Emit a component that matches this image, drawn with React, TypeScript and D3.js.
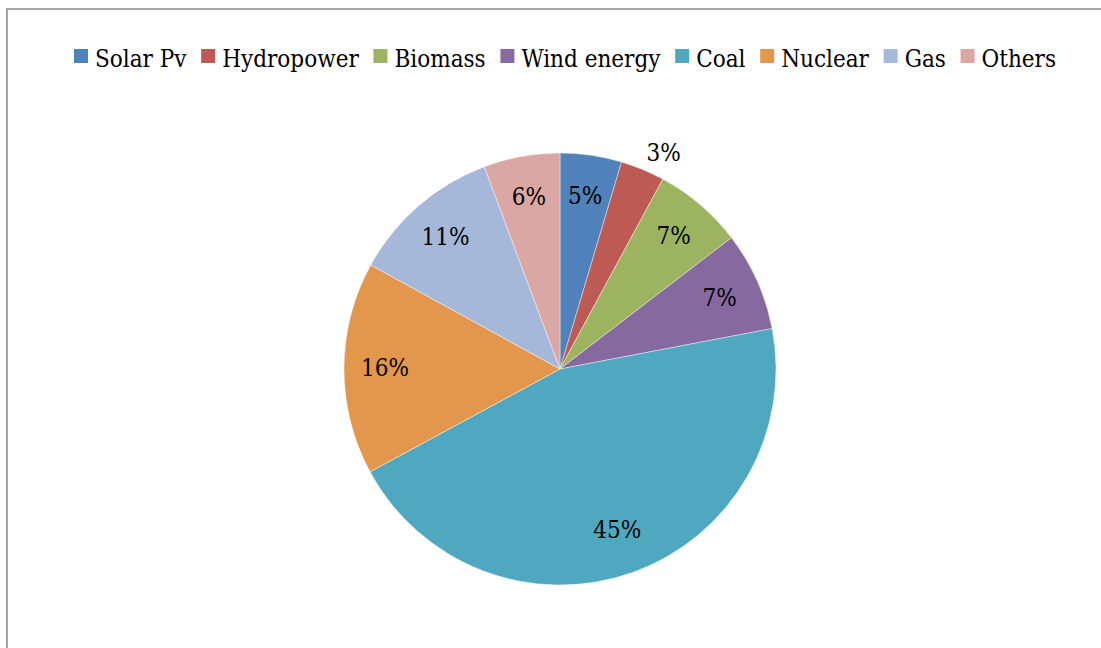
import React, { useMemo } from "react";
import * as d3 from "d3";

const categories = ["Solar Pv", "Hydropower", "Biomass", "Wind energy", "Coal", "Nuclear", "Gas", "Others"];
const values = [4.6, 3.3, 6.7, 7.4, 45.1, 15.9, 11.3, 5.7];
const colors = ["#5081BA", "#BE5A54", "#9CB45F", "#866A9F", "#4FA8C0", "#E3974D", "#A6B8D9", "#DBA7A4"];
const outsideLabel = [false, true, false, false, false, false, false, false];

const W = 1101;
const H = 648;
const CX = 560;
const CY = 369;
const R = 216;
const FONT_NAME = "DejaVu Serif Condensed";
const FONT = `'${FONT_NAME}', 'DejaVu Serif', serif`;
const FS = 24;
const LEG_FS = 24;
const LEG_LEFT = 74;
const LEG_RIGHT = 1056;

function measure(text: string, size: number): number {
  const c = document.createElement("canvas");
  const ctx = c.getContext("2d");
  if (!ctx) return text.length * size * 0.5;
  ctx.font = `${size}px '${FONT_NAME}', 'DejaVu Serif', serif`;
  return ctx.measureText(text).width;
}

export default function App() {
  const total = d3.sum(values);
  const pie = d3.pie<number>().sort(null).value((d) => d)(values);
  const arc = d3.arc<d3.PieArcDatum<number>>().innerRadius(0).outerRadius(R);

  const legend = useMemo(() => {
    const sw = 14;
    const textOff = 21;
    const widths = categories.map((c) => measure(c, LEG_FS));
    const itemW = widths.map((w) => textOff + w);
    const gap = (LEG_RIGHT - LEG_LEFT - d3.sum(itemW)) / (categories.length - 1);
    let x = LEG_LEFT;
    return categories.map((c, i) => {
      const item = { x, w: widths[i], sw };
      x += itemW[i] + gap;
      return item;
    });
  }, []);

  return (
    <svg width={W} height={H} style={{ position: "absolute", left: 0, top: 0, display: "block", background: "#fff" }}>
      <rect x={7} y={9} width={W + 50} height={H + 50} fill="#fff" stroke="#A6A6A6" strokeWidth={2} />
      <g transform={`translate(${CX},${CY})`}>
        {pie.map((p, i) => (
          <path key={i} d={arc(p) || ""} fill={colors[i]} stroke="#ffffff" strokeWidth={0.7} strokeOpacity={0.6} />
        ))}
        {pie.map((p, i) => {
          const a = (p.startAngle + p.endAngle) / 2;
          const outside = outsideLabel[i];
          const r = outside ? R + 18 : i === 4 ? R * 0.79 : R * 0.81;
          const x = Math.sin(a) * r;
          const y = -Math.cos(a) * r;
          const pct = Math.round((p.value / total) * 100);
          return (
            <text
              key={i}
              x={outside ? x - 3 : x}
              y={y}
              textAnchor={outside ? "start" : "middle"}
              dominantBaseline="central"
              fontFamily={FONT}
              fontSize={FS}
              fill="#000"
            >
              {pct}%
            </text>
          );
        })}
      </g>
      <g>
        {legend.map((l, i) => (
          <g key={i}>
            <rect x={l.x} y={49} width={l.sw} height={14} fill={colors[i]} />
            <text x={l.x + 21} y={67} fontFamily={FONT} fontSize={LEG_FS} fill="#000">
              {categories[i]}
            </text>
          </g>
        ))}
      </g>
    </svg>
  );
}
